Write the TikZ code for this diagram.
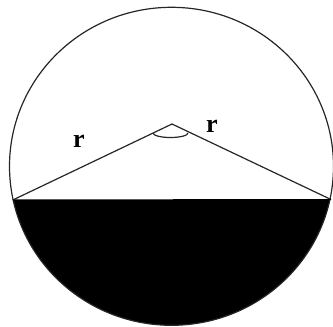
\documentclass[tikz,border=0pt]{standalone}
\usepackage{fontspec}
\setmainfont{Liberation Serif}
\begin{document}
\begin{tikzpicture}[x=1pt,y=-1pt,
  edge/.style={draw=black!85,line width=1.2pt},
  lbl/.style={font=\fontsize{26}{26}\selectfont\bfseries,inner sep=0pt}]
\useasboundingbox (0,0) rectangle (333,327);
\coordinate (O) at (171.5,166.3);
\coordinate (A) at (172,124);
\coordinate (L) at (12.8,200);
\coordinate (R) at (331,199.5);
\begin{scope}
  \clip (0,200) rectangle (333,327);
  \fill[black] (O) ellipse [x radius=162, y radius=159];
\end{scope}
\draw[edge] (O) ellipse [x radius=162, y radius=159];
\draw[edge] (L) -- (A) -- (R);
\draw[black,line width=1pt] (L) -- (R);
\draw[edge] (153,133) arc [start angle=180, end angle=0, x radius=17.5, y radius=4.5];
\node[lbl] (r1) at (79,141) {r};
\node[lbl] (r2) at (212,126) {r};
\end{tikzpicture}
\end{document}
